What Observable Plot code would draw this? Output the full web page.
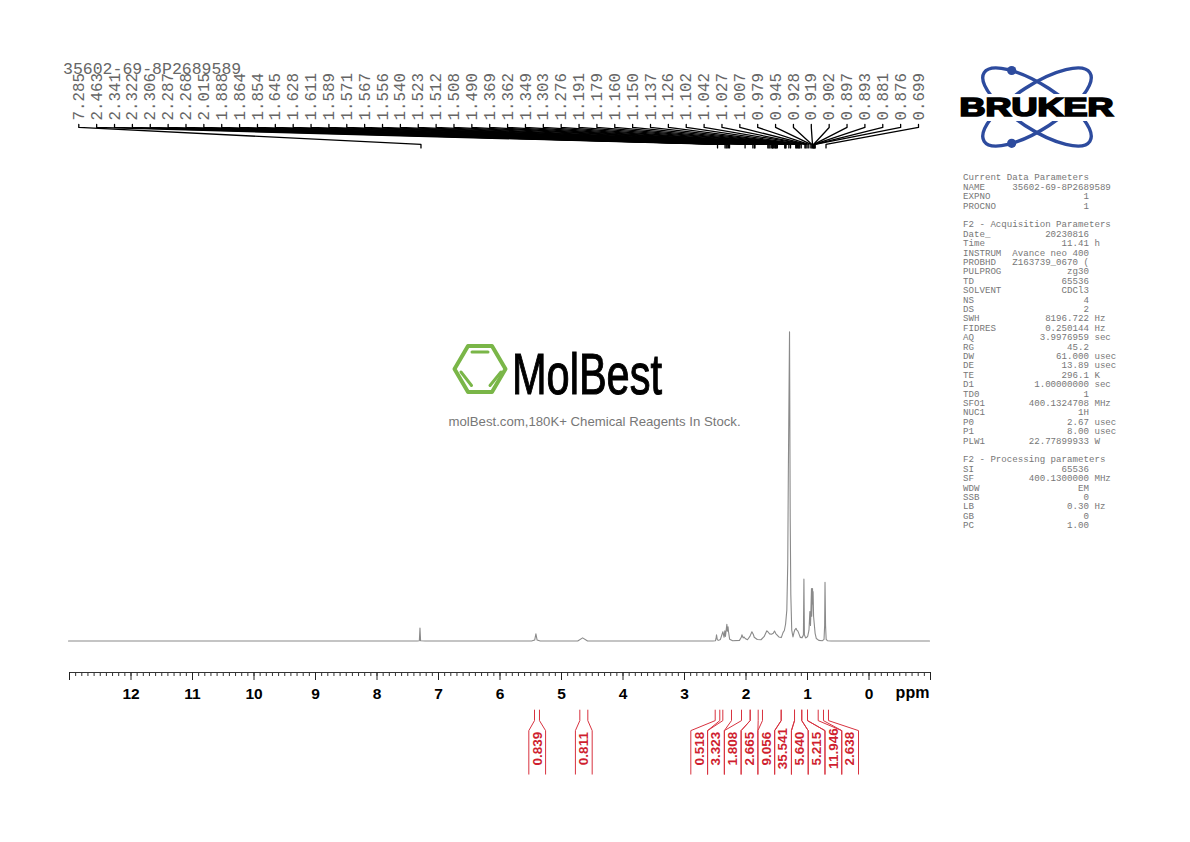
<!DOCTYPE html>
<html><head><meta charset="utf-8">
<style>html,body{margin:0;padding:0;background:#fff;width:1190px;height:842px;overflow:hidden}
#c{position:relative;width:1190px;height:842px}
#c>svg{position:absolute;left:0;top:0;overflow:visible}
</style>
<script src="https://cdn.jsdelivr.net/npm/d3@7"></script>
<script src="https://cdn.jsdelivr.net/npm/@observablehq/plot@0.6"></script>
</head><body><div id="c"></div>
<script>
const sampleName = "35602-69-8P2689589";
const peakShifts = [7.285,2.463,2.341,2.322,2.306,2.287,2.268,2.015,1.888,1.864,1.854,1.645,1.628,1.611,1.589,1.571,1.567,1.556,1.540,1.523,1.512,1.508,1.490,1.369,1.362,1.349,1.303,1.276,1.191,1.179,1.160,1.150,1.137,1.126,1.102,1.042,1.027,1.007,0.979,0.945,0.928,0.919,0.902,0.897,0.893,0.881,0.876,0.699];
const integralValues = ["0.839","0.811","0.518","3.323","1.808","2.665","9.056","35.541","5.640","5.215","11.946","2.638"];
const integralLeft  = [5.439,4.702,2.501,2.377,2.073,1.932,1.732,1.428,1.211,1.093,1.000,0.740];
const integralRight = [5.358,4.572,2.426,2.236,1.932,1.802,1.428,1.211,1.093,1.000,0.826,0.659];
const spectrumPpm = [13,7.33,7.295,7.285,7.275,7.2,5.47,5.42,5.40,5.38,5.33,4.72,4.64,4.56,3.0,2.523,2.48,2.47,2.463,2.45,2.43,2.40,2.36,2.34,2.328,2.318,2.306,2.295,2.287,2.276,2.268,2.25,2.2,2.09,2.06,2.05,2.03,2.015,1.997,1.96,1.92,1.888,1.864,1.85,1.80,1.74,1.69,1.645,1.628,1.6,1.57,1.54,1.52,1.5,1.45,1.41,1.38,1.36,1.34,1.32,1.305,1.295,1.276,1.265,1.255,1.24,1.22,1.2,1.19,1.17,1.16,1.14,1.13,1.1,1.09,1.075,1.06,1.05,1.042,1.034,1.015,1.0,0.98,0.96,0.945,0.935,0.928,0.919,0.915,0.902,0.897,0.893,0.885,0.876,0.86,0.84,0.8,0.74,0.715,0.705,0.699,0.69,0.68,0.66,0.6,-1];
const spectrumIntensity = [0,0,0.1,4.2,0.1,0,0,0.3,2.3,0.3,0,0,1,0,0,0,0.1,0.9,2,0.4,0.2,0.5,3,1.2,3.3,1.5,3.5,5.4,3.2,4.6,3,0.6,0.1,0.2,1.2,2,1,1.3,0.8,0.4,1.5,3,2.1,1.2,0.5,0.4,1.4,3.3,3,2.3,2.2,2.5,3.2,2.4,1.3,1.1,2.8,3.4,5.5,10,25,55,100,40,15,3.5,1.3,3,3.6,4.1,3.6,3.2,2.7,1.1,1.2,1,1.5,2,20,2,1,1.1,1.6,3.5,9.5,5,10,17,8,17,12,16,8,6,2.5,0.8,0.2,0.1,0.5,5,19,5,0.5,0.1,0,0];
const majorTicks = d3.range(-1,14);
const minorTicks = d3.range(-10,131).map(d=>d/10);
const paramHeaders = {top:"Current Data Parameters", acq:"F2 - Acquisition Parameters", proc:"F2 - Processing parameters"};
const paramRows = [
 ["#","top"],["NAME",sampleName,"raw"],["EXPNO","1"],["PROCNO","1"],[""],
 ["#","acq"],["Date_","20230816"],["Time","11.41","h"],["INSTRUM","Avance neo 400"],["PROBHD","Z163739_0670 ("],["PULPROG","zg30"],["TD","65536"],["SOLVENT","CDCl3"],["NS","4"],["DS","2"],["SWH","8196.722","Hz"],["FIDRES","0.250144","Hz"],["AQ","3.9976959","sec"],["RG","45.2"],["DW","61.000","usec"],["DE","13.89","usec"],["TE","296.1","K"],["D1","1.00000000","sec"],["TD0","1"],["SFO1","400.1324708","MHz"],["NUC1","1H"],["P0","2.67","usec"],["P1","8.00","usec"],["PLW1","22.77899933","W"],[""],
 ["#","proc"],["SI","65536"],["SF","400.1300000","MHz"],["WDW","EM"],["SSB","0"],["LB","0.30","Hz"],["GB","0"],["PC","1.00"]
];
// page-pixel helpers for annotations placed around the plot frame
const X = px => 13 - (px - 69) / 61.5;
const Y = px => (641 - px) / 3.09;
const mono = "'Liberation Mono', monospace";
const sans = "'Liberation Sans', Arial, sans-serif";

const spectrum = spectrumPpm.map((x,i)=>({x,y:spectrumIntensity[i]}));
const slot = d3.scaleLinear([0,peakShifts.length-1],[78.3,918]);
const peaks = peakShifts.map((p,i)=>({p,s:X(slot(i)),lab:p.toFixed(3)}));
const fan = peaks.flatMap((d,i)=>[
  {k:i,x:d.s,y:Y(124)},{k:i,x:d.s,y:Y(127)},{k:i,x:d.p,y:Y(144)},{k:i,x:d.p,y:Y(147.5)}]);
const slotCenters = [536.7,583.3].concat(d3.range(10).map(i=>698.7+16.77*i));
const slotHalf = 8.38;
const integrals = integralValues.map((v,i)=>({v,c:X(slotCenters[i]),l:integralLeft[i],r:integralRight[i],le:X(slotCenters[i]-slotHalf),re:X(slotCenters[i]+slotHalf)}));
const bracket = integrals.flatMap((d,i)=>[
  {k:i+"l",x:d.l,y:Y(709.5)},{k:i+"l",x:d.l,y:Y(720)},{k:i+"l",x:d.le,y:Y(730)},{k:i+"l",x:d.le,y:Y(773.5)},
  {k:i+"r",x:d.r,y:Y(709.5)},{k:i+"r",x:d.r,y:Y(720)},{k:i+"r",x:d.re,y:Y(730)},{k:i+"r",x:d.re,y:Y(773.5)}]);
const paramLines = paramRows.map((r,i)=>{
  let t;
  if(r[0]==="#") t=paramHeaders[r[1]];
  else if(r[2]==="raw") t=r[0]+"     "+r[1];
  else if(r.length===1) t="";
  else t=r[0]+r[1].padStart(23-r[0].length)+(r[2]?" "+r[2]:"");
  return {t,i};
}).filter(d=>d.t);

const chart = Plot.plot({
  width:1190,height:842,marginLeft:69,marginRight:260,marginTop:332,marginBottom:170,
  style:{background:"transparent",overflow:"visible"},
  x:{domain:[13,-1],axis:null},
  y:{domain:[-10,100],axis:null},
  marks:[
    Plot.line(spectrum,{x:"x",y:"y",dx:-1,dy:-0.6,stroke:"#8a8a8a",strokeWidth:1.1,curve:"linear"}),
    Plot.ruleY([-10],{x1:13,x2:-1,stroke:"#333",strokeWidth:1}),
    Plot.axisX({ticks:minorTicks,tickSize:4,stroke:"#333",fill:"none",tickFormat:()=>"",label:null}),
    Plot.axisX({ticks:majorTicks,tickSize:8,stroke:"#222",fill:"#000",tickPadding:7,fontSize:15.5,fontWeight:"bold",fontFamily:sans,
      tickFormat:d=>(d>=0&&d<=12)?String(d):"",label:null}),
    Plot.text(["ppm"],{x:X(912),y:Y(692.5),fontSize:16,fontWeight:"bold",fontFamily:sans,fill:"#000"}),
    Plot.line(fan,{x:"x",y:"y",z:"k",stroke:"#000",strokeWidth:1.3,curve:"linear"}),
    Plot.text(peaks,{x:"s",y:Y(120),text:"lab",rotate:-90,textAnchor:"start",fontFamily:mono,fontSize:15.8,fill:"#666"}),
    Plot.text([sampleName],{x:X(62.5),y:Y(68),textAnchor:"start",fontFamily:mono,fontSize:16.5,fill:"#666"}),
    Plot.line(bracket,{x:"x",y:"y",z:"k",stroke:"#d8323f",strokeWidth:1,curve:"linear"}),
    Plot.text(integrals,{x:"c",y:Y(748),text:"v",rotate:-90,fontFamily:sans,fontSize:13.5,fontWeight:"bold",fill:"#cf1f30"}),
    Plot.text(paramLines,{x:X(962.5),y:d=>Y(177+d.i*9.4),text:"t",textAnchor:"start",fontFamily:mono,fontSize:9.13,fill:"#777",style:{whiteSpace:"pre"}}),
    Plot.text(["molBest.com,180K+ Chemical Reagents In Stock."],{x:X(448),y:Y(421),textAnchor:"start",fontFamily:sans,fontSize:13.2,fill:"#777"})
  ]
});
document.getElementById("c").appendChild(chart);
chart.querySelectorAll("text").forEach(t=>t.setAttribute("xml:space","preserve"));

const logos = `<svg width="1190" height="842" xmlns="http://www.w3.org/2000/svg" style="pointer-events:none">
<g fill="none" stroke="#2d4b9e" stroke-width="3.4">
 <ellipse cx="1037" cy="107" rx="63" ry="22" transform="rotate(33 1037 107)"/>
 <ellipse cx="1037" cy="107" rx="63" ry="22" transform="rotate(-33 1037 107)"/>
</g>
<circle cx="1011.7" cy="70.5" r="4.6" fill="#2d4b9e"/><circle cx="1011.7" cy="143.3" r="4.6" fill="#2d4b9e"/>
<rect x="955" y="94" width="164" height="27" fill="#fff"/>
<text x="959.5" y="116" font-family="'Liberation Sans',Arial" font-weight="bold" font-size="25.5" stroke="#000" stroke-width="1.7" fill="#000" textLength="154" lengthAdjust="spacingAndGlyphs">BRUKER</text>
<g fill="none" stroke="#7ab648" stroke-linecap="round" stroke-linejoin="round">
 <path d="M468 346 L492 346 L505.5 369 L492 392 L468 392 L454.5 369 Z" stroke-width="4"/>
 <path d="M472 352 H488 M461 372 L471.5 385.5 M490 385.5 L501 372" stroke-width="3"/>
</g>
<text x="512" y="394" font-family="'Liberation Sans',Arial" font-size="58" fill="#000" stroke="#000" stroke-width="1.1" textLength="150" lengthAdjust="spacingAndGlyphs">MolBest</text>
</svg>`;
document.getElementById("c").insertAdjacentHTML("beforeend",logos);
</script></body></html>
